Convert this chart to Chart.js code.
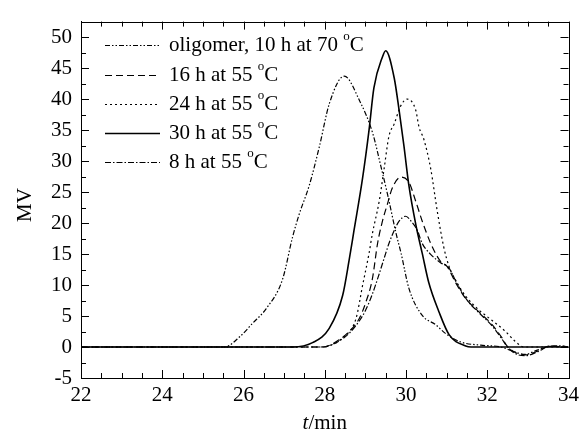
<!DOCTYPE html>
<html>
<head>
<meta charset="utf-8">
<script src="https://cdn.jsdelivr.net/npm/chart.js@4/dist/chart.umd.min.js"></script>
<style>
  html, body { margin: 0; padding: 0; background: #fff; }
  canvas { display: block; }
</style>
</head>
<body>
<canvas id="gpc" width="584" height="438"></canvas>
<script>
// t in min, signal in MV
const oligomerT  = [22, 25.53, 25.93, 26.22, 26.56, 26.96, 27.21, 27.37, 27.62, 27.87, 28.11, 28.48, 28.86, 29.18, 29.38, 29.55, 29.76, 29.88, 30.07, 30.4, 30.73, 30.97, 31.35, 31.84, 32.34, 32.64, 32.93, 33.23, 33.53, 34];
const oligomerMV = [0, 0, 1.8, 3.8, 6.2, 10.9, 17.8, 21.4, 26.1, 32.4, 39.2, 43.7, 39.7, 34.5, 29.2, 24.5, 18.2, 15.1, 9.5, 5.1, 3.6, 2.2, 0.8, 0.3, 0, -0.7, -1.2, -0.5, 0.1, 0];

const h16T  = [22, 27.95, 28.36, 28.6, 28.85, 29.01, 29.17, 29.3, 29.42, 29.54, 29.66, 29.87, 30.07, 30.24, 30.4, 30.61, 30.85, 31.01, 31.22, 31.47, 31.79, 32.12, 32.36, 32.49, 32.69, 32.94, 33.26, 33.51, 34];
const h16MV = [0, 0, 1.2, 2.5, 4.6, 7.2, 10.9, 16.7, 20.3, 23, 25.6, 27.4, 26.6, 23.5, 20.3, 16.7, 13.8, 13, 10.4, 7.8, 5.7, 3.6, 1.5, 0.15, -0.9, -1.26, -0.6, 0.15, 0];

const h24T  = [22, 27.9, 28.11, 28.44, 28.77, 28.93, 29.09, 29.17, 29.34, 29.46, 29.58, 29.71, 29.87, 30.03, 30.24, 30.32, 30.44, 30.61, 30.77, 30.93, 31.06, 31.22, 31.47, 31.79, 31.96, 32.45, 32.69, 32.9, 34];
const h24MV = [0, 0, 0.2, 1.5, 4.6, 9.9, 15.1, 18.2, 23.5, 28.7, 34, 36, 38.9, 40, 38.2, 35.5, 33.5, 28.7, 21.9, 16.1, 13, 10.8, 8.2, 6, 5.1, 2.5, 0.9, 0, 0];

const h30T  = [22, 27.21, 27.7, 28.11, 28.44, 28.6, 28.72, 28.93, 29.09, 29.21, 29.42, 29.5, 29.71, 29.83, 29.95, 30.07, 30.24, 30.4, 30.56, 30.81, 31.06, 31.47, 31.6, 34];
const h30MV = [0, 0, 0.7, 3, 8.3, 14, 18.8, 27.2, 35, 41.8, 46.8, 47.8, 43.4, 38.2, 32.4, 26.1, 19.8, 15.1, 10.4, 5.7, 2, 0.16, 0, 0];

const h8T  = [22, 27.95, 28.36, 28.6, 28.85, 29.01, 29.17, 29.35, 29.5, 29.58, 29.71, 29.83, 29.99, 30.15, 30.28, 30.4, 30.6, 30.85, 31.05, 31.25, 31.5, 31.8, 32.12, 32.36, 32.5, 32.7, 32.94, 33.26, 33.51, 33.8, 34];
const h8MV = [0, 0, 1, 2.2, 4.2, 6, 8.5, 12, 15.1, 16.7, 18.8, 20.3, 21.1, 20.1, 18.8, 16.7, 15, 13.6, 12.8, 10.3, 7.6, 5.5, 3.4, 1.3, 0, -1.1, -1.4, -0.7, 0.1, 0.2, 0];

const seriesLabels = ['oligomer, 10 h at 70 °C', '16 h at 55 °C', '24 h at 55 °C', '30 h at 55 °C', '8 h at 55 °C'];
const xTicks = [22, 24, 26, 28, 30, 32, 34];
const yTicks = [-5, 0, 5, 10, 15, 20, 25, 30, 35, 40, 45, 50];

const FONT = '"Liberation Serif", "Times New Roman", serif';

function pts(t, v) {
  return t.map((x, i) => ({ x: x, y: v[i] }));
}

function trace(label, t, v, dash, width) {
  return {
    label: label,
    data: pts(t, v),
    borderColor: '#000',
    borderWidth: width,
    borderDash: dash,
    pointRadius: 0,
    fill: false,
    cubicInterpolationMode: 'monotone'
  };
}

// frame, inward ticks on all four sides, axis titles and the boxed-in legend
const decor = {
  id: 'decor',
  afterDraw(chart) {
    const ctx = chart.ctx;
    const a = chart.chartArea;
    const xs = chart.scales.x, ys = chart.scales.y;
    ctx.save();
    ctx.strokeStyle = '#000';
    ctx.fillStyle = '#000';
    ctx.lineWidth = 1;
    ctx.setLineDash([]);
    ctx.strokeRect(Math.round(a.left) + 0.5, Math.round(a.top) + 0.5, Math.round(a.right - a.left), Math.round(a.bottom - a.top));

    ctx.beginPath();
    for (let v = 22; v <= 34.001; v += 0.5) {
      const px = Math.round(xs.getPixelForValue(v)) + 0.5;
      const len = Math.abs(v % 2) < 0.01 ? 8 : 5;
      ctx.moveTo(px, a.bottom); ctx.lineTo(px, a.bottom - len);
      ctx.moveTo(px, a.top); ctx.lineTo(px, a.top + len);
    }
    for (let v = -5; v <= 52.5; v += 2.5) {
      const py = Math.round(ys.getPixelForValue(v)) + 0.5;
      const len = Math.abs(v % 5) < 0.01 ? 8 : 5;
      ctx.moveTo(a.left, py); ctx.lineTo(a.left + len, py);
      ctx.moveTo(a.right, py); ctx.lineTo(a.right - len, py);
    }
    ctx.stroke();

    // axis titles
    ctx.textBaseline = 'middle';
    ctx.textAlign = 'center';
    ctx.font = '21px ' + FONT;
    ctx.save();
    ctx.translate(25, 205);
    ctx.rotate(-Math.PI / 2);
    ctx.fillText('MV', 0, 0);
    ctx.restore();

    const cx = (a.left + a.right) / 2;
    ctx.textAlign = 'left';
    ctx.font = 'italic 21px ' + FONT;
    const wt = ctx.measureText('t').width;
    ctx.font = '21px ' + FONT;
    const wm = ctx.measureText('/min').width;
    const x0 = cx - (wt + wm) / 2;
    ctx.font = 'italic 21px ' + FONT;
    ctx.fillText('t', x0, 423);
    ctx.font = '21px ' + FONT;
    ctx.fillText('/min', x0 + wt, 423);

    // legend
    const rows = [45, 75, 104, 133, 162];
    chart.data.datasets.forEach((ds, i) => {
      const y = rows[i];
      ctx.lineWidth = ds.borderWidth;
      ctx.setLineDash(ds.borderDash);
      ctx.beginPath();
      ctx.moveTo(105, y + 0.5);
      ctx.lineTo(160, y + 0.5);
      ctx.stroke();
      ctx.setLineDash([]);
      const parts = ds.label.split('°');
      let tx = 169;
      ctx.font = '21px ' + FONT;
      ctx.fillText(parts[0], tx, y);
      tx += ctx.measureText(parts[0]).width;
      ctx.font = '13px ' + FONT;
      ctx.fillText('o', tx, y - 8);
      tx += ctx.measureText('o').width;
      ctx.font = '21px ' + FONT;
      ctx.fillText(parts[1], tx, y);
    });
    ctx.restore();
  }
};

new Chart(document.getElementById('gpc'), {
  type: 'line',
  data: {
    datasets: [
      trace(seriesLabels[0], oligomerT, oligomerMV, [5, 2, 1.5, 2, 1.5, 2], 1.2),
      trace(seriesLabels[1], h16T, h16MV, [7, 4], 1.2),
      trace(seriesLabels[2], h24T, h24MV, [2, 3], 1.2),
      trace(seriesLabels[3], h30T, h30MV, [], 1.6),
      trace(seriesLabels[4], h8T, h8MV, [6, 2, 1.5, 2], 1.2)
    ]
  },
  options: {
    responsive: false,
    animation: false,
    devicePixelRatio: 1,
    layout: { padding: { left: 0, right: 14, top: 12, bottom: 0 } },
    plugins: { legend: { display: false }, tooltip: { enabled: false } },
    scales: {
      x: {
        type: 'linear',
        min: 22,
        max: 34,
        afterFit: s => { s.height = 60; },
        afterBuildTicks: s => { s.ticks = xTicks.map(v => ({ value: v })); },
        grid: { display: true, drawOnChartArea: false, drawTicks: false },
        border: { display: true, color: '#000', width: 1 },
        ticks: { color: '#000', padding: 5, maxRotation: 0, font: { family: FONT, size: 21 } }
      },
      y: {
        type: 'linear',
        min: -5,
        max: 52.5,
        afterFit: s => { s.width = 81; },
        afterBuildTicks: s => { s.ticks = yTicks.map(v => ({ value: v })); },
        grid: { display: true, drawOnChartArea: false, drawTicks: false },
        border: { display: true, color: '#000', width: 1 },
        ticks: { color: '#000', padding: 9, font: { family: FONT, size: 21 } }
      }
    }
  },
  plugins: [decor]
});
</script>
</body>
</html>
